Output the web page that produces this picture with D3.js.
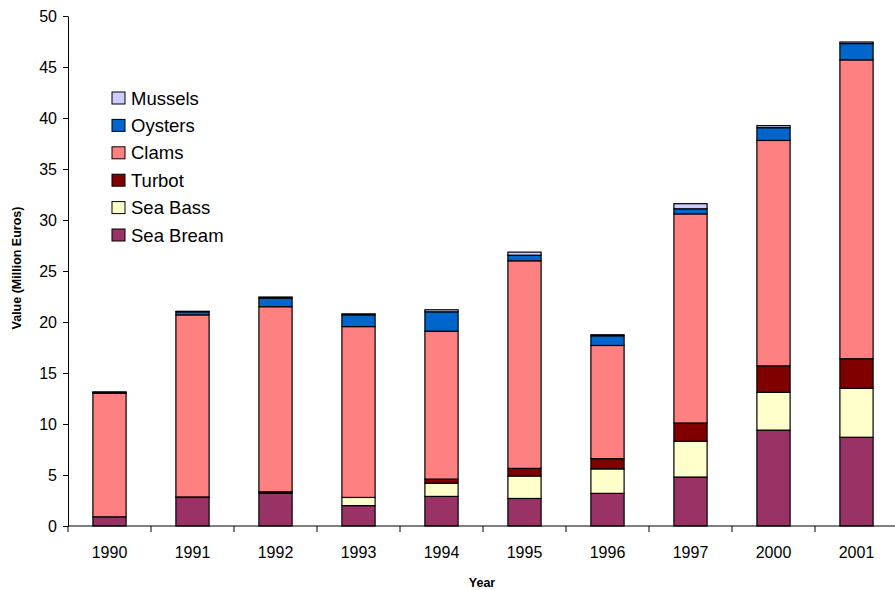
<!DOCTYPE html>
<html>
<head>
<meta charset="utf-8">
<script src="https://cdn.jsdelivr.net/npm/d3@7"></script>
<style>
  html, body { margin: 0; padding: 0; background: #fff; }
  svg { display: block; font-family: "Liberation Sans", Arial, sans-serif; }
</style>
</head>
<body>
<svg id="chart" width="895" height="590"></svg>
<script>
// Aquaculture production value by species, million euros
const years = ["1990", "1991", "1992", "1993", "1994", "1995", "1996", "1997", "2000", "2001"];
const seaBream = [0.9, 2.8, 3.2, 2.0, 2.9, 2.7, 3.2, 4.8, 9.4, 8.7];
const seaBass  = [0.0, 0.0, 0.1, 0.8, 1.3, 2.2, 2.4, 3.5, 3.7, 4.8];
const turbot   = [0.0, 0.05, 0.05, 0.0, 0.4, 0.75, 1.0, 1.8, 2.6, 2.9];
const clams    = [12.1, 17.85, 18.15, 16.75, 14.5, 20.35, 11.1, 20.5, 22.1, 29.3];
const oysters  = [0.1, 0.3, 0.85, 1.15, 1.9, 0.55, 0.95, 0.5, 1.25, 1.6];
const mussels  = [0.05, 0.05, 0.1, 0.1, 0.2, 0.3, 0.1, 0.5, 0.2, 0.15];
const seriesNames = ["Sea Bream", "Sea Bass", "Turbot", "Clams", "Oysters", "Mussels"];
const seriesColors = ["#993366", "#FFFFCC", "#800000", "#FF8080", "#0066CC", "#CCCCFF"];
const yTicks = [0, 5, 10, 15, 20, 25, 30, 35, 40, 45, 50];

const seriesValues = [seaBream, seaBass, turbot, clams, oysters, mussels];
const rows = years.map((y, i) => {
  const r = { year: y };
  seriesNames.forEach((n, k) => { r[n] = seriesValues[k][i]; });
  return r;
});

const svg = d3.select("#chart");
const x = d3.scaleBand().domain(years).range([68, 898]).paddingInner(0.6).paddingOuter(0.3);
const y = d3.scaleLinear().domain([0, 50]).range([526, 16]);
const color = d3.scaleOrdinal().domain(seriesNames).range(seriesColors);

const stacked = d3.stack().keys(seriesNames)(rows);

// Stacked bars
svg.append("g").selectAll("g")
  .data(stacked)
  .join("g")
    .attr("fill", d => color(d.key))
  .selectAll("rect")
  .data(d => d)
  .join("rect")
    .attr("x", d => x(d.data.year))
    .attr("width", x.bandwidth())
    .attr("y", d => y(d[1]))
    .attr("height", d => Math.max(0, y(d[0]) - y(d[1])))
    .attr("stroke", "#000")
    .attr("stroke-width", 1.2);

// Y axis
const yAxis = svg.append("g")
  .attr("transform", "translate(68,0)")
  .call(d3.axisLeft(y).tickValues(yTicks).tickSize(5).tickPadding(6).tickSizeOuter(0));
yAxis.select(".domain").attr("stroke", "#000");
yAxis.selectAll(".tick line").attr("stroke", "#000");
yAxis.selectAll("text").attr("font-size", 16).attr("fill", "#000")
  .attr("font-family", "Liberation Sans, Arial, sans-serif");

// X axis with ticks between categories
const xAxisG = svg.append("g").attr("transform", "translate(0,526)");
xAxisG.append("line").attr("x1", 68).attr("x2", 898).attr("stroke", "#000");
const step = x.step();
const boundaries = d3.range(years.length + 1).map(i => 68 + i * step);
xAxisG.selectAll("line.tk").data(boundaries).join("line")
  .attr("class", "tk")
  .attr("x1", d => d).attr("x2", d => d)
  .attr("y1", 0).attr("y2", 6)
  .attr("stroke", "#000");
xAxisG.selectAll("text").data(years).join("text")
  .attr("x", d => x(d) + x.bandwidth() / 2)
  .attr("y", 32)
  .attr("text-anchor", "middle")
  .attr("font-size", 16)
  .attr("fill", "#000")
  .text(d => d);

// Axis titles
svg.append("text")
  .attr("x", 482).attr("y", 587)
  .attr("text-anchor", "middle")
  .attr("font-size", 12.5).attr("font-weight", "bold")
  .text("Year");
svg.append("text")
  .attr("transform", "translate(21,268) rotate(-90)")
  .attr("text-anchor", "middle")
  .attr("font-size", 12.5).attr("font-weight", "bold")
  .text("Value (Million Euros)");

// Legend, top series first
const legendNames = seriesNames.slice().reverse();
const legend = svg.append("g").attr("transform", "translate(112,98)");
const item = legend.selectAll("g").data(legendNames).join("g")
  .attr("transform", (d, i) => `translate(0,${i * 27.4})`);
item.append("rect")
  .attr("x", 0).attr("y", -6).attr("width", 13).attr("height", 12)
  .attr("fill", d => color(d)).attr("stroke", "#000").attr("stroke-width", 1);
item.append("text")
  .attr("x", 19).attr("y", 6.5)
  .attr("font-size", 18.5).attr("fill", "#000")
  .text(d => d);
</script>
</body>
</html>
